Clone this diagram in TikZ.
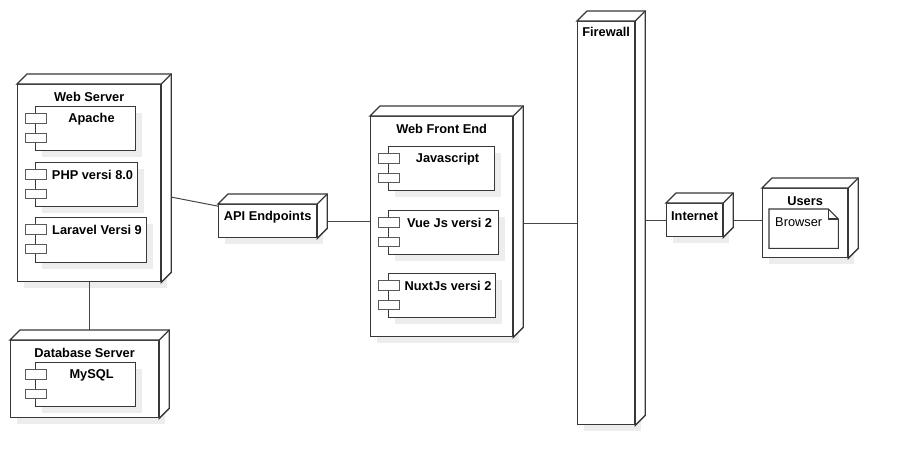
\documentclass[tikz,border=0pt]{standalone}
\usepackage{fontspec}
\setmainfont{Liberation Sans}
\usetikzlibrary{shadows}

\newcommand{\titlefont}{\fontsize{12.8}{15}\selectfont\bfseries}
\newcommand{\plainfont}{\fontsize{12.8}{15}\selectfont}

\tikzset{
  boxline/.style={draw=black!78, line width=1.3pt},
  shade3d/.style={drop shadow={shadow xshift=6pt, shadow yshift=-6pt, fill=black!7, opacity=1}},
  devnode/.style={boxline, fill=white, anchor=north west, inner sep=0pt, shade3d},
  compnode/.style={boxline, line width=1.1pt, fill=white, anchor=north west, inner sep=0pt, shade3d},
  iconbox/.style={draw=black!65, line width=0.9pt, fill=white},
  devtitle/.style={anchor=center, yshift=-13pt, font=\titlefont, inner sep=0pt},
  comptext/.style={anchor=center, xshift=6pt, yshift=-13pt, font=\titlefont, inner sep=0pt},
  wire/.style={draw=black!72, line width=1pt}
}

\begin{document}
\begin{tikzpicture}[x=1pt, y=-1pt]
  \useasboundingbox (0,0) rectangle (898,466);

  % devices
  \node[devnode, minimum width=143pt, minimum height=197pt, label={[devtitle]north:Web Server}] (web) at (17,84) {};
  \node[devnode, minimum width=148pt, minimum height=77pt, label={[devtitle]north:Database Server}] (db) at (10,340) {};
  \node[devnode, minimum width=98pt, minimum height=33pt, label={[devtitle]north:API Endpoints}] (api) at (218,204) {};
  \node[devnode, minimum width=142pt, minimum height=220pt, label={[devtitle]north:Web Front End}] (front) at (370,116) {};
  \node[devnode, minimum width=57pt, minimum height=403pt, label={[devtitle, yshift=2pt]north:Firewall}] (fw) at (577,21) {};
  \node[devnode, minimum width=56pt, minimum height=33pt, label={[devtitle]north:Internet}] (inet) at (666,203) {};
  \node[devnode, minimum width=85pt, minimum height=69pt, label={[devtitle]north:Users}] (users) at (762,188) {};

  % components
  \node[compnode, minimum width=100pt, minimum height=44pt, label={[comptext]north:Apache}] (apache) at (35,106) {};
  \node[compnode, minimum width=102pt, minimum height=44pt, label={[comptext]north:PHP versi 8.0}] (php) at (35,162) {};
  \node[compnode, minimum width=111pt, minimum height=45pt, label={[comptext]north:Laravel Versi 9}] (laravel) at (35,217) {};
  \node[compnode, minimum width=100pt, minimum height=44pt, label={[comptext]north:MySQL}] (mysql) at (35,362) {};
  \node[compnode, minimum width=106pt, minimum height=44pt, label={[comptext]north:Javascript}] (js) at (388,146) {};
  \node[compnode, minimum width=110pt, minimum height=44pt, label={[comptext]north:Vue Js versi 2}] (vue) at (388,210) {};
  \node[compnode, minimum width=107pt, minimum height=44pt, label={[comptext]north:NuxtJs versi 2}] (nuxt) at (388,273) {};

  \foreach \c in {apache,php,laravel,mysql,js,vue,nuxt} {
    \draw[iconbox] ([shift={(-10,7)}]\c.north west) rectangle ++(21,10);
    \draw[iconbox] ([shift={(-10,27)}]\c.north west) rectangle ++(21,9);
  }

  % artifact
  \node[anchor=north west, minimum width=69pt, minimum height=39pt, inner sep=0pt,
        label={[anchor=center, xshift=-5pt, yshift=-13pt, font=\plainfont, inner sep=0pt]north:Browser}] (browser) at (769,209) {};
  \draw[boxline, line width=1.1pt] (browser.north west) -- ([xshift=-10pt]browser.north east)
    -- ([yshift=-10pt]browser.north east) -- (browser.south east) -- (browser.south west) -- cycle;
  \draw[boxline, line width=1.1pt] ([xshift=-10pt]browser.north east) |- ([yshift=-10pt]browser.north east);

  % connectors
  \draw[wire] (web.south) -- (web.south |- db.north);
  \draw[wire] ([yshift=-12pt]web.east) -- ([yshift=15pt]api.west);
  \draw[wire] (api.east) -- (api.east -| front.west);
  \draw[wire] (fw.west -| front.east) -- (fw.west);
  \draw[wire] (fw.east |- inet.west) -- (inet.west);
  \draw[wire] (inet.east) -- (inet.east -| users.west);

  % 3d faces
  \foreach \n in {web,db,api,front,fw,inet,users} {
    \draw[boxline, fill=white] (\n.north west) -- ++(10,-10) -| ([shift={(10,-10)}]\n.south east)
      -- (\n.south east) -- (\n.north east) -- cycle;
    \draw[boxline] (\n.north east) -- ++(10,-10);
  }
\end{tikzpicture}
\end{document}
